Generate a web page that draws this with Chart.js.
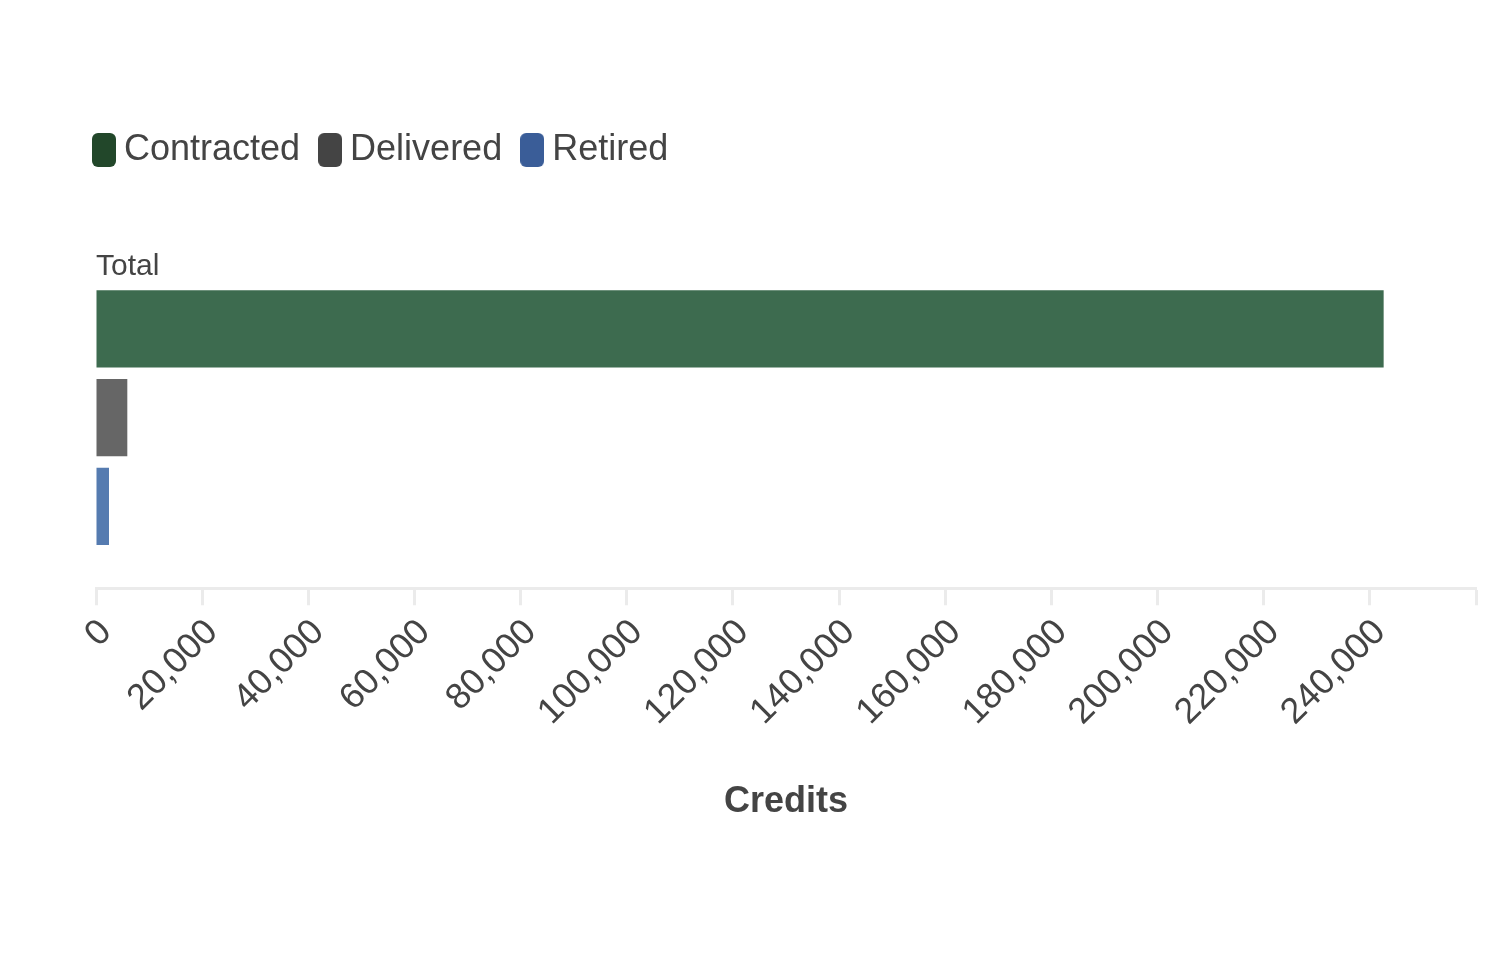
<!DOCTYPE html>
<html>
<head>
<meta charset="utf-8">
<script src="https://cdn.jsdelivr.net/npm/chart.js@4.4.1/dist/chart.umd.min.js"></script>
<style>
  html, body { margin: 0; padding: 0; background: #ffffff; }
  #wrap { width: 1500px; height: 960px; position: relative; }
</style>
</head>
<body>
<div id="wrap"><canvas id="c"></canvas></div>
<script>
const categories = ['Total'];
const seriesNames = ['Contracted', 'Delivered', 'Retired'];
const contracted = [242600];
const delivered = [5900];
const retired = [2450];
const barColors = ['#3d6b4f', '#666666', '#557bb0'];
const legendColors = ['#22472a', '#444444', '#3a5d98'];
const xTickStep = 20000;
const xMax = 260000;
const xTitle = 'Credits';

const FONT = "'Liberation Sans', Arial, Helvetica, sans-serif";
const TEXT = '#444444';

const seriesValues = [contracted, delivered, retired];

// rounded legend swatch images (24 x 34)
function swatch(color) {
  const c = document.createElement('canvas');
  c.width = 24; c.height = 34;
  const g = c.getContext('2d');
  g.fillStyle = color;
  g.beginPath();
  if (g.roundRect) { g.roundRect(0, 0, 24, 34, 6); } else { g.rect(0, 0, 24, 34); }
  g.fill();
  return c;
}
const swatches = legendColors.map(swatch);

const legendSpacer = {
  id: 'legendSpacer',
  beforeInit(chart) {
    const orig = chart.legend.fit;
    chart.legend.fit = function () {
      orig.call(this);
      this.height += 69;
    };
  },
  afterLayout(chart) {
    chart.legend.left = 74;
  }
};

new Chart(document.getElementById('c'), {
  type: 'bar',
  data: {
    labels: categories,
    datasets: seriesNames.map((name, i) => ({
      label: name,
      data: seriesValues[i],
      backgroundColor: barColors[i],
      borderWidth: 0,
      categoryPercentage: 0.78,
      barPercentage: 0.87
    }))
  },
  plugins: [legendSpacer],
  options: {
    indexAxis: 'y',
    responsive: true,
    maintainAspectRatio: false,
    animation: false,
    devicePixelRatio: 1,
    layout: { padding: { top: 104, left: 82, right: 24, bottom: 136 } },
    plugins: {
      legend: {
        position: 'top',
        align: 'start',
        labels: {
          font: { family: FONT, size: 36 },
          color: TEXT,
          usePointStyle: true,
          pointStyleWidth: 4,
          boxHeight: 34,
          padding: 28,
          generateLabels(chart) {
            return chart.data.datasets.map((ds, i) => ({
              text: ds.label,
              fillStyle: legendColors[i],
              strokeStyle: legendColors[i],
              lineWidth: 0,
              pointStyle: swatches[i],
              fontColor: TEXT,
              hidden: !chart.isDatasetVisible(i),
              datasetIndex: i
            }));
          }
        }
      },
      tooltip: { enabled: false }
    },
    scales: {
      x: {
        type: 'linear',
        min: 0,
        max: xMax,
        position: 'bottom',
        afterFit(scale) { scale.paddingRight = 0; },
        ticks: {
          stepSize: xTickStep,
          minRotation: 45,
          maxRotation: 45,
          padding: 6,
          labelOffset: 10,
          color: TEXT,
          font: { family: FONT, size: 36 },
          callback(v) { return v >= xMax ? '' : v.toLocaleString('en-US'); }
        },
        grid: {
          drawOnChartArea: false,
          drawTicks: true,
          tickLength: 17,
          tickWidth: 3,
          color: '#ebebeb'
        },
        border: { display: true, color: '#ebebeb', width: 3 },
        title: {
          display: true,
          text: xTitle,
          color: TEXT,
          font: { family: FONT, size: 36, weight: 'bold' },
          padding: { top: 41, bottom: 0 }
        }
      },
      y: {
        type: 'category',
        afterFit(scale) { scale.width = 14; },
        ticks: {
          mirror: true,
          padding: 0,
          labelOffset: -151,
          color: TEXT,
          font: { family: FONT, size: 30 }
        },
        grid: { display: false, drawTicks: false },
        border: { display: false }
      }
    }
  }
});
</script>
</body>
</html>
